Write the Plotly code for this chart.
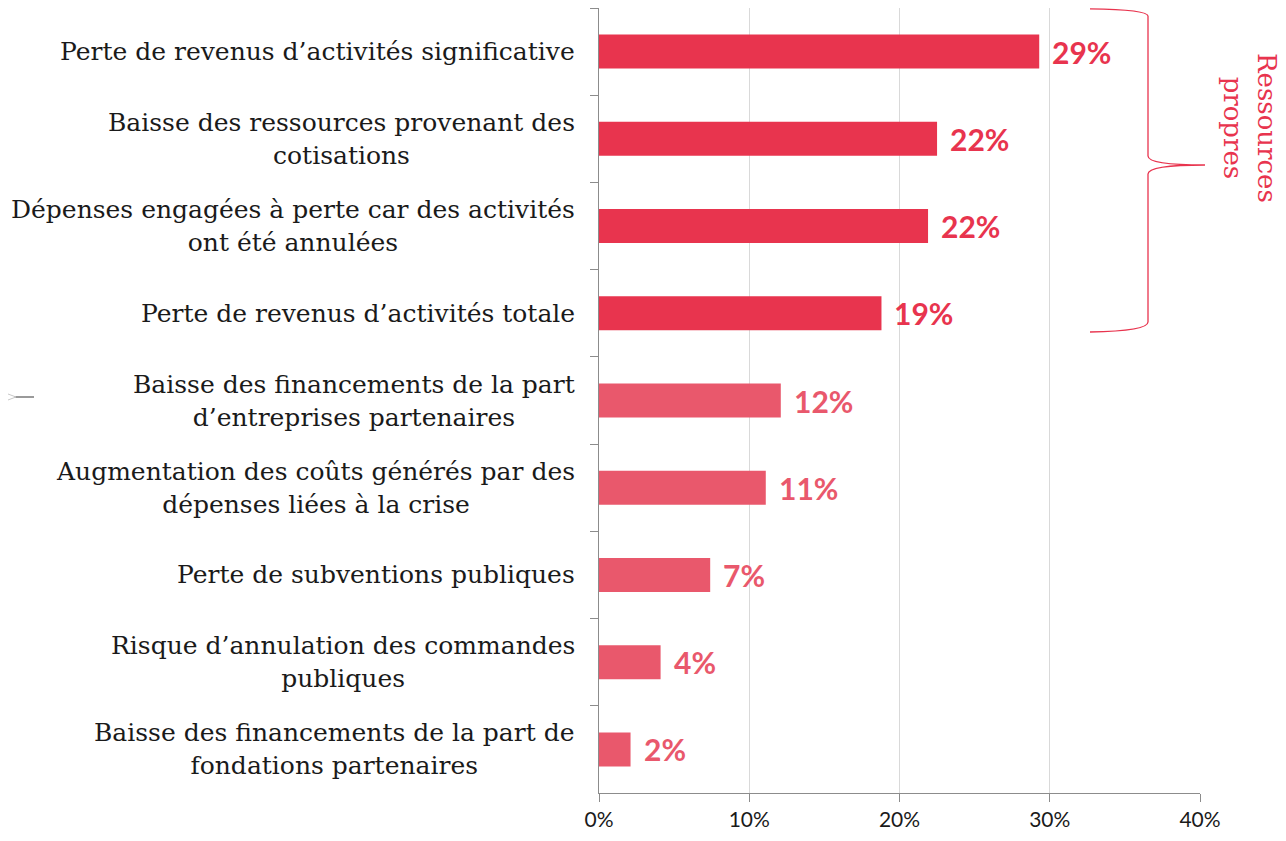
import plotly.graph_objects as go

# ------------------------------------------------
# DATA
# ------------------------------------------------
categories = [
    "Perte de revenus d’activités significative",
    "Baisse des ressources provenant des<br>cotisations",
    "Dépenses engagées à perte car des activités<br>ont été annulées",
    "Perte de revenus d’activités totale",
    "Baisse des financements de la part<br>d’entreprises partenaires",
    "Augmentation des coûts générés par des<br>dépenses liées à la crise",
    "Perte de subventions publiques",
    "Risque d’annulation des commandes<br>publiques",
    "Baisse des financements de la part de<br>fondations partenaires",
]
values = [29.3, 22.5, 21.9, 18.8, 12.1, 11.1, 7.4, 4.1, 2.1]
value_labels = ["29%", "22%", "22%", "19%", "12%", "11%", "7%", "4%", "2%"]
own_resources = [True, True, True, True, False, False, False, False, False]
x_ticks = [0, 10, 20, 30, 40]
x_tick_labels = ["0%", "10%", "20%", "30%", "40%"]
bracket_label = "Ressources<br>propres"

RED = "#E8344E"
PINK = "#E9586C"

# the page body adds an 8px margin, so the figure is drawn from (8, 8)
OFF = 8
W, H = 1286 - OFF, 841 - OFF
L, R, T, B = 599 - OFF, 86, 0, 48
PW, PH = W - L - R, H - T - B


def px(x, y):
    # screen pixel -> paper coordinates
    return (x - OFF - L) / PW, (H - B - (y - OFF)) / PH


colors = [RED if o else PINK for o in own_resources]

fig = go.Figure(
    go.Bar(
        x=values,
        y=categories,
        orientation="h",
        marker=dict(color=colors, line=dict(width=0)),
        width=0.39,
        hoverinfo="skip",
    )
)

# category labels (centered multi-line, right aligned block)
annotations = []
for cat in categories:
    annotations.append(dict(
        x=0, xref="paper", y=cat, yref="y",
        text=cat, showarrow=False,
        xanchor="right", yanchor="middle", align="center",
        xshift=-22,
        font=dict(family="DejaVu Serif", size=25, color="#1a1a1a"),
    ))

# value labels
for cat, v, lab, c in zip(categories, values, value_labels, colors):
    annotations.append(dict(
        x=v, xref="x", y=cat, yref="y",
        text=lab, showarrow=False,
        xanchor="left", yanchor="middle", xshift=11,
        font=dict(family="Lato", size=30, color=c, weight="bold"),
    ))

# bracket text
bx, by = px(1250, 128)
annotations.append(dict(
    x=bx, y=by, xref="paper", yref="paper",
    text=bracket_label, showarrow=False, textangle=90,
    xanchor="center", yanchor="middle", align="center",
    font=dict(family="DejaVu Serif", size=26, color=RED),
))


def path_from(points):
    cmds = []
    for cmd, pts in points:
        coords = " ".join("%.5f,%.5f" % px(*p) for p in pts)
        cmds.append(cmd + coords)
    return " ".join(cmds)


brace = path_from([
    ("M", [(1090, 8.8)]),
    ("Q", [(1148, 9.5), (1148, 16)]),
    ("L", [(1148, 156)]),
    ("Q", [(1148, 165), (1205, 165)]),
    ("Q", [(1148, 165), (1148, 174)]),
    ("L", [(1148, 322)]),
    ("Q", [(1148, 331), (1090, 332)]),
])

stub = path_from([
    ("M", [(14, 397)]),
    ("L", [(34, 397)]),
])
stub_fan = path_from([
    ("M", [(8, 394)]),
    ("L", [(16, 397)]),
    ("L", [(8, 400)]),
])

fig.update_layout(
    width=W, height=H,
    margin=dict(l=L, r=R, t=T, b=B),
    plot_bgcolor="white", paper_bgcolor="white",
    showlegend=False,
    annotations=annotations,
    shapes=[
        dict(type="path", path=brace, xref="paper", yref="paper",
             line=dict(color=RED, width=1.3)),
        dict(type="path", path=stub, xref="paper", yref="paper",
             line=dict(color="#9a9a9a", width=2)),
        dict(type="path", path=stub_fan, xref="paper", yref="paper",
             line=dict(color="#c8c8c8", width=1)),
    ],
)

fig.update_xaxes(
    range=[0, 40],
    tickvals=x_ticks, ticktext=x_tick_labels,
    showgrid=True, gridcolor="#d9d9d9", gridwidth=1,
    zeroline=False,
    showline=True, linecolor="#8c8c8c", linewidth=1.3,
    ticks="outside", ticklen=8, tickcolor="#8c8c8c",
    tickfont=dict(family="Lato", size=21, color="#1a1a1a"),
    fixedrange=True,
)

fig.update_yaxes(
    autorange="reversed",
    showticklabels=False,
    showline=True, linecolor="#8c8c8c", linewidth=1.3,
    ticks="outside", ticklen=8, tickcolor="#8c8c8c",
    tickson="boundaries",
    showgrid=False,
    fixedrange=True,
)

fig.write_html("out.html")
